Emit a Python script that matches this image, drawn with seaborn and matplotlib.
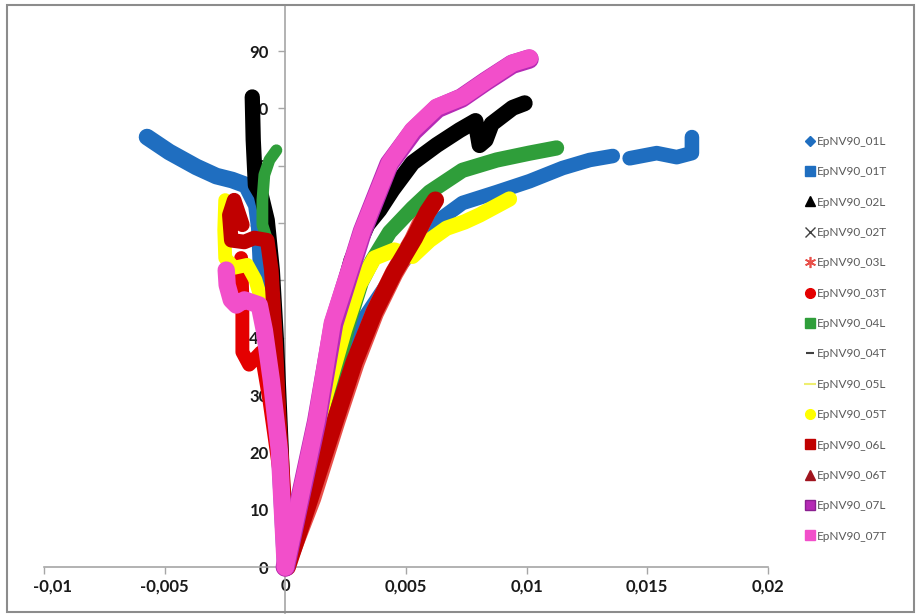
import matplotlib
matplotlib.use("Agg")
import matplotlib.pyplot as plt
import matplotlib.transforms as mtransforms
from matplotlib.lines import Line2D
from matplotlib.patches import Rectangle
import seaborn as sns

# ---------------- data (strain, stress) ----------------
x_01L_a = [0, 0.00141, 0.00303, 0.00469, 0.00590, 0.00627, 0.00734, 0.00876, 0.01012, 0.01149, 0.01261, 0.01357]
y_01L_a = [0, 23.6, 41.9, 52.3, 58.4, 60.2, 63.5, 65.4, 67.3, 69.6, 71.0, 71.7]
x_01L_b = [0.01427, 0.01539, 0.01622, 0.01685, 0.01685]
y_01L_b = [71.3, 72.2, 71.5, 72.2, 75.0]

x_01T = [0, -0.00025, -0.00058, -0.00083, -0.00100, -0.00108, -0.00120, -0.00162, -0.00220, -0.00286, -0.00369, -0.00481, -0.00573]
y_01T = [0, 20.4, 32.6, 41.3, 52.0, 59.3, 63.1, 66.6, 67.5, 68.2, 69.8, 72.4, 75.0]

x_02L = [0, 0.00129, 0.00195, 0.00274, 0.00340, 0.00390, 0.00444, 0.00527, 0.00627, 0.00722, 0.00788, 0.00805, 0.00830, 0.00855, 0.00942, 0.00992]
y_02L = [0, 25.6, 41.3, 53.5, 59.7, 62.3, 65.8, 70.5, 73.6, 76.2, 77.8, 73.6, 74.5, 77.3, 80.1, 80.9]

x_02T = [0, -0.00017, -0.00037, -0.00054, -0.00075, -0.00100, -0.00124, -0.00133, -0.00137]
y_02T = [0, 20.4, 39.6, 51.8, 60.5, 64.9, 66.6, 74.5, 82.0]

x_03L = [0, 0.0011, 0.0021, 0.0029, 0.0037, 0.0045, 0.0053, 0.0058, 0.0061]
y_03L = [0, 12.0, 25.4, 35.6, 44.3, 51.2, 57.0, 61.5, 63.5]

x_03T = [0, -0.00025, -0.00066, -0.00100, -0.00150, -0.00178, -0.00178, -0.00183]
y_03T = [0, 16.9, 29.1, 37.5, 35.3, 37.5, 46.6, 53.9]

x_04L = [0, 0.00141, 0.00203, 0.00266, 0.00315, 0.00361, 0.00432, 0.00527, 0.00598, 0.00734, 0.00876, 0.01012, 0.01124]
y_04L = [0, 22.2, 32.6, 43.1, 49.7, 53.5, 58.4, 62.6, 65.4, 69.2, 71.0, 72.2, 73.1]

x_04T = [0, -0.00021, -0.00046, -0.00075, -0.00095, -0.00095, -0.00087, -0.00066, -0.00037]
y_04T = [0, 25.6, 46.6, 57.0, 59.7, 64.0, 68.4, 71.0, 72.7]

x_05L = [0, 0.00079, 0.00162, 0.00245, 0.00307, 0.00369, 0.00452, 0.00527, 0.00598, 0.00668, 0.00743, 0.00805, 0.00867, 0.00929]
y_05L = [0, 15.2, 29.1, 41.3, 49.2, 53.9, 55.3, 54.2, 57.0, 59.1, 60.2, 61.4, 62.8, 64.2]

x_05T = [0, -0.00017, -0.00046, -0.00087, -0.00124, -0.00158, -0.00212, -0.00249, -0.00253, -0.00249]
y_05T = [0, 16.9, 32.6, 44.8, 50.1, 52.7, 52.2, 53.9, 58.8, 64.0]

x_06L = [0.00008, 0.00100, 0.00207, 0.00286, 0.00369, 0.00452, 0.00535, 0.00589, 0.00622]
y_06L = [0, 11.7, 25.6, 35.8, 44.5, 51.5, 57.4, 61.9, 64.0]

x_06T = [0, -0.00004, -0.00025, -0.00041, -0.00058, -0.00075, -0.00129, -0.00170, -0.00224, -0.00232, -0.00212, -0.00178]
y_06T = [0, 11.7, 25.6, 39.6, 51.8, 57.0, 57.4, 56.7, 57.0, 61.4, 64.0, 59.7]

x_07L = [0, 0.0013, 0.0020, 0.0032, 0.0043, 0.0053, 0.0063, 0.0073, 0.0083, 0.0094, 0.0101]
y_07L = [0, 25.4, 42.4, 58.6, 70.3, 76.0, 80.0, 81.8, 84.7, 87.7, 88.6]

x_07T_r = [0, 0.00129, 0.00195, 0.00320, 0.00432, 0.00527, 0.00627, 0.00734, 0.00834, 0.00942, 0.01012]
y_07T_r = [0, 25.6, 42.6, 58.8, 70.5, 76.2, 80.2, 82.0, 84.9, 87.9, 88.8]
x_07T_l = [0, -0.00025, -0.00058, -0.00087, -0.00108, -0.00170, -0.00203, -0.00224, -0.00241, -0.00245]
y_07T_l = [0, 20.4, 32.6, 41.3, 45.7, 46.6, 45.7, 46.6, 49.2, 51.8]

series_names = ["EpNV90_01L", "EpNV90_01T", "EpNV90_02L", "EpNV90_02T", "EpNV90_03L",
                "EpNV90_03T", "EpNV90_04L", "EpNV90_04T", "EpNV90_05L", "EpNV90_05T",
                "EpNV90_06L", "EpNV90_06T", "EpNV90_07L", "EpNV90_07T"]
x_ticks = [-0.01, -0.005, 0, 0.005, 0.01, 0.015, 0.02]
x_tick_labels = ["-0,01", "-0,005", "0", "0,005", "0,01", "0,015", "0,02"]
y_ticks = [0, 10, 20, 30, 40, 50, 60, 70, 80, 90]
y_tick_labels = ["0", "10", "20", "30", "40", "50", "60", "70", "80", "90"]

# ---------------- style ----------------
sns.set_theme(style="white")
plt.rcParams["font.family"] = ["Lato", "DejaVu Sans"]

BLUE = "#1f6ec0"
BLACK = "#000000"
RED_L = "#e8504a"
RED = "#e40000"
GREEN = "#2f9e3a"
YEL = "#ffff00"
DRED = "#c00000"
MAG = "#b52ab5"
PINK = "#f24fca"

fig = plt.figure(figsize=(9.21, 6.14), dpi=100)
ax = fig.add_axes([0.0478, 0.0018, 0.786, 0.9897])
ax.set_xlim(-0.01, 0.02)
ax.set_ylim(-8, 98)

line_kw = dict(sort=False, estimator=None, ax=ax, solid_capstyle="round",
               solid_joinstyle="round", legend=False)

draw = [
    (x_01L_a, y_01L_a, BLUE, 10.5),
    (x_01L_b, y_01L_b, BLUE, 10.5),
    (x_01T, y_01T, BLUE, 12),
    (x_02L, y_02L, BLACK, 11.5),
    (x_02T, y_02T, BLACK, 11),
    (x_03L, y_03L, RED_L, 13.5),
    (x_03T, y_03T, RED, 10),
    (x_04L, y_04L, GREEN, 11),
    (x_04T, y_04T, GREEN, 8.5),
    (x_05L, y_05L, YEL, 11),
    (x_05T, y_05T, YEL, 10),
    (x_06L, y_06L, DRED, 12.5),
    (x_06T, y_06T, DRED, 10.5),
    (x_07L, y_07L, MAG, 14),
    (x_07T_r, y_07T_r, PINK, 12.5),
    (x_07T_l, y_07T_l, PINK, 12.5),
]
for xs, ys, c, lw in draw:
    sns.lineplot(x=xs, y=ys, color=c, lw=lw, **line_kw)

# axes styling (Excel-like, axes crossing at zero)
ax.set_axisbelow(True)
for s in ["top", "right"]:
    ax.spines[s].set_visible(False)
ax.spines["left"].set_position(("data", 0))
ax.spines["bottom"].set_position(("data", 0))
for s in ["left", "bottom"]:
    ax.spines[s].set_color("#a6a6a6")
    ax.spines[s].set_linewidth(1.2)
    ax.spines[s].set_zorder(1)

ax.set_xticks(x_ticks)
ax.set_xticklabels(x_tick_labels)
ax.set_yticks(y_ticks)
ax.set_yticklabels(y_tick_labels)
ax.tick_params(axis="both", bottom=True, left=True, direction="out", length=5,
               width=1, color="#a6a6a6", labelsize=12, labelcolor="#1a1a1a")
ax.tick_params(axis="y", pad=7)
ax.tick_params(axis="x", pad=3)
for t in ax.get_xticklabels() + ax.get_yticklabels():
    t.set_fontweight("bold")
# first x label sits shifted right inside the chart area, as in the source
first = ax.get_xticklabels()[0]
first.set_transform(first.get_transform() + mtransforms.ScaledTranslation(8 / 100, 0, fig.dpi_scale_trans))
ax.set_xlabel("")
ax.set_ylabel("")
ax.grid(False)

# legend
markers = [
    dict(marker="D", color=BLUE, ms=5),
    dict(marker="s", color=BLUE, ms=7),
    dict(marker="^", color=BLACK, ms=7),
    dict(marker="x", color="#404040", ms=7, mew=1),
    dict(marker=(6, 2, 0), color=RED_L, ms=8, mew=1.2),
    dict(marker="o", color=RED, ms=7),
    dict(marker="s", color=GREEN, ms=7),
    dict(marker="_", color="#404040", ms=6, mew=1.5),
    dict(marker="_", color="#eeee70", ms=8, mew=1.5),
    dict(marker="o", color=YEL, ms=7),
    dict(marker="s", color=DRED, ms=7),
    dict(marker="^", color="#a0141e", ms=7),
    dict(marker="s", color=MAG, ms=6.5, mec="#8a2090"),
    dict(marker="s", color=PINK, ms=7),
]
handles = [Line2D([], [], ls="none", **m) for m in markers]
fig.legend(handles, series_names, loc="upper left", bbox_to_anchor=(799 / 921, 1 - 130 / 614),
           frameon=False, fontsize=8.5, labelspacing=1.64, handlelength=0.8,
           handletextpad=0.25, labelcolor="#595959", borderpad=0)

# chart-area border
fig.patches.append(Rectangle((7 / 921, 2 / 614), 907 / 921, 607 / 614, transform=fig.transFigure,
                             fill=False, ec="#8c8c8c", lw=1.5))

fig.savefig("out.png", dpi=100)
